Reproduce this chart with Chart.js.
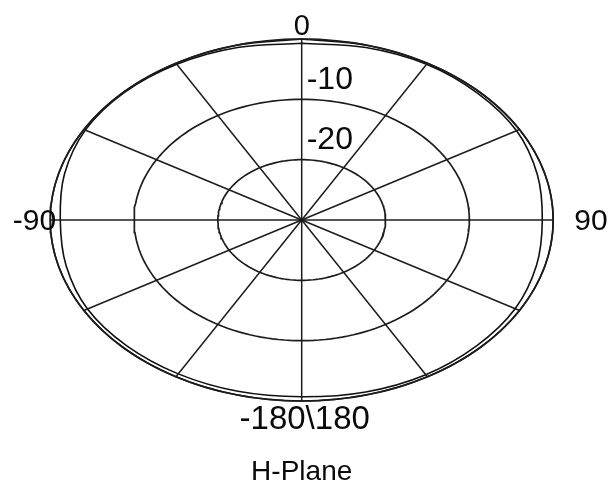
<!DOCTYPE html>
<html>
<head>
<meta charset="utf-8">
<script src="https://cdn.jsdelivr.net/npm/chart.js@4"></script>
<style>
  body { margin: 0; background: #fff; }
  #wrap { width: 609px; height: 484px; position: relative; }
</style>
</head>
<body>
<div id="wrap"><canvas id="myChart"></canvas></div>
<script>
//------------------------------------------------------------------
// data (dB, angle 0 at top, clockwise)

var angles   = [0, 15, 30, 45, 60, 75, 90, 105, 120, 135, 150, 165, 180,
                195, 210, 225, 240, 255, 270, 285, 300, 315, 330, 345];
var outer_db = [0, 0, 0, 0, 0, 0, 0, 0, 0, 0, 0, 0, 0,
                0, 0, 0, 0, 0, 0, 0, 0, 0, 0, 0];
var inner_db = [-0.7, -0.4, -0.2, -0.3, -0.4, -0.9, -1.3, -1.0, -0.6, -0.5, -0.4, -0.5, -0.7,
                -0.6, -0.55, -0.5, -0.5, -0.9, -1.2, -0.7, -0.2, -0.1, -0.2, -0.4];

var ring_db     = [-20, -10, 0];
var ring_labels = ['-20', '-10', '0'];
var spoke_deg   = [0, 30, 60, 90, 120, 150, 180, 210, 240, 270, 300, 330];
var db_min = -30;
var db_max = 0;

//------------------------------------------------------------------

function rad(db){ return (db - db_min) / (db_max - db_min); }

function to_xy(deg, db){
    var a = deg * Math.PI / 180;
    var r = rad(db);
    return { x: r * Math.sin(a), y: r * Math.cos(a) };
}

function curve(list){
    var pts = [];
    for (let i = 0; i < angles.length; i++) pts.push(to_xy(angles[i], list[i]));
    pts.push(pts[0]);
    return pts;
}

var grid_sets = [];
for (let i = 0; i < ring_db.length; i++) {
    var pts = [];
    for (let d = 0; d <= 360; d += 2) pts.push(to_xy(d, ring_db[i]));
    grid_sets.push({ data: pts, borderColor: '#1c1c1c', borderWidth: 1.7, pointRadius: 0, showLine: true, tension: 0 });
}
for (let i = 0; i < spoke_deg.length; i++) {
    grid_sets.push({ data: [{x: 0, y: 0}, to_xy(spoke_deg[i], db_max)],
        borderColor: '#1c1c1c', borderWidth: 1.5, pointRadius: 0, showLine: true });
}

var label_plugin = {
    id: 'labels',
    afterDraw(chart){
        var c = chart.ctx;
        var sx = chart.scales.x, sy = chart.scales.y;
        var cx = sx.getPixelForValue(0), cy = sy.getPixelForValue(0);
        var top = sy.getPixelForValue(1), left = sx.getPixelForValue(-1), right = sx.getPixelForValue(1);
        var bottom = sy.getPixelForValue(-1);
        c.save();
        c.fillStyle = '#0a0a0a';
        c.textBaseline = 'alphabetic';

        c.font = '29px "Liberation Sans", Arial, sans-serif';
        c.textAlign = 'center';
        c.fillText(ring_labels[2], cx, top - 4);

        c.font = '32px "Liberation Sans", Arial, sans-serif';
        c.textAlign = 'left';
        c.fillText(ring_labels[1], cx + 5, sy.getPixelForValue(rad(ring_db[1])) - 10);
        c.fillText(ring_labels[0], cx + 5, sy.getPixelForValue(rad(ring_db[0])) - 11);

        c.font = '30px "Liberation Sans", Arial, sans-serif';
        c.textAlign = 'right';
        c.fillText('-90', left + 6, cy + 10);
        c.textAlign = 'left';
        c.fillText('90', right + 21, cy + 10);

        c.font = '33px "Liberation Sans", Arial, sans-serif';
        c.textAlign = 'center';
        c.fillText('-180\\180', cx + 3, bottom + 28);

        c.font = '28px "Liberation Sans", Arial, sans-serif';
        c.fillText('H-Plane', cx, 480);
        c.restore();
    }
};

const ctx = document.getElementById('myChart');

const polar_chart = new Chart(ctx, {
    type: 'scatter',
    data: {
        datasets: grid_sets.concat([
            { label: 'outer', data: curve(outer_db), borderColor: '#111', borderWidth: 1.6,
              pointRadius: 0, showLine: true, tension: 0.35 },
            { label: 'inner', data: curve(inner_db), borderColor: '#111', borderWidth: 1.6,
              pointRadius: 0, showLine: true, tension: 0.35 }
        ])
    },
    options: {
        responsive: true,
        maintainAspectRatio: false,
        animation: false,
        layout: { padding: 0 },
        plugins: { legend: { display: false }, tooltip: { enabled: false } },
        scales: {
            x: { type: 'linear', display: false, min: -1.1996, max: 1.2219 },
            y: { type: 'linear', display: false, min: -1.4586, max: 1.2155 }
        }
    },
    plugins: [label_plugin]
});
</script>
</body>
</html>
